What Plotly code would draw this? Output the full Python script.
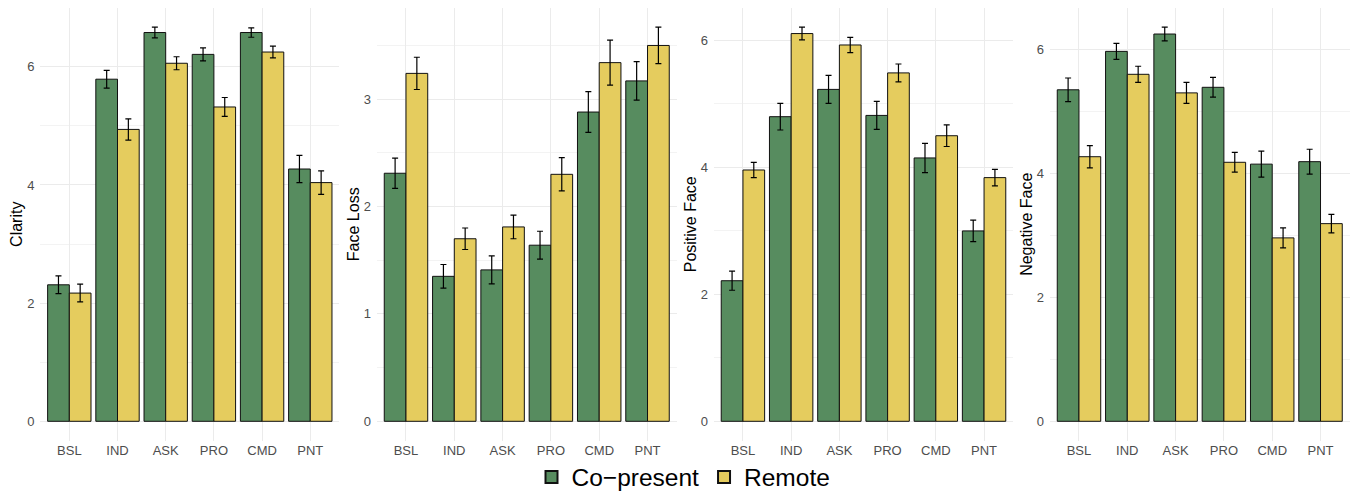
import plotly.graph_objects as go

categories = ["BSL", "IND", "ASK", "PRO", "CMD", "PNT"]
series_names = ["Co\u2212present", "Remote"]
series_colors = ["#578C5F", "#E5CC5E"]

panel_titles = ["Clarity", "Face Loss", "Positive Face", "Negative Face"]

clarity_copresent = [2.31, 5.79, 6.58, 6.21, 6.58, 4.27]
clarity_copresent_err = [0.15, 0.15, 0.09, 0.11, 0.08, 0.23]
clarity_remote = [2.17, 4.94, 6.06, 5.32, 6.25, 4.04]
clarity_remote_err = [0.15, 0.18, 0.11, 0.16, 0.10, 0.20]

faceloss_copresent = [2.31, 1.35, 1.41, 1.64, 2.88, 3.17]
faceloss_copresent_err = [0.14, 0.11, 0.13, 0.13, 0.19, 0.18]
faceloss_remote = [3.24, 1.70, 1.81, 2.30, 3.34, 3.50]
faceloss_remote_err = [0.15, 0.10, 0.11, 0.155, 0.21, 0.17]

posface_copresent = [2.215, 4.80, 5.23, 4.82, 4.15, 3.00]
posface_copresent_err = [0.15, 0.21, 0.22, 0.22, 0.23, 0.17]
posface_remote = [3.96, 6.11, 5.93, 5.49, 4.50, 3.84]
posface_remote_err = [0.12, 0.10, 0.12, 0.14, 0.17, 0.13]

negface_copresent = [5.35, 5.97, 6.25, 5.39, 4.15, 4.19]
negface_copresent_err = [0.19, 0.13, 0.11, 0.16, 0.21, 0.20]
negface_remote = [4.27, 5.60, 5.30, 4.18, 2.96, 3.19]
negface_remote_err = [0.18, 0.13, 0.17, 0.16, 0.16, 0.15]

panels = [
    (clarity_copresent, clarity_copresent_err, clarity_remote, clarity_remote_err, 2, 1),
    (faceloss_copresent, faceloss_copresent_err, faceloss_remote, faceloss_remote_err, 1, 0.5),
    (posface_copresent, posface_copresent_err, posface_remote, posface_remote_err, 2, 1),
    (negface_copresent, negface_copresent_err, negface_remote, negface_remote_err, 2, 1),
]

W, H = 1351, 495
x_domains_px = [(40.4, 339.2), (377.0, 676.5), (714.0, 1013.0), (1050.0, 1349.5)]
y_domain = [(H - 441.0) / H, (H - 7.5) / H]

FONT = "Liberation Sans, Arial, Helvetica, sans-serif"
fig = go.Figure()

for i, (cv, ce, rv, re_, dt, mdt) in enumerate(panels):
    ax = "" if i == 0 else str(i + 1)
    for j, (vals, errs) in enumerate([(cv, ce), (rv, re_)]):
        fig.add_trace(go.Bar(
            x=categories, y=vals,
            name=series_names[j],
            marker=dict(color=series_colors[j], line=dict(color="#111111", width=1)),
            error_y=dict(type="data", array=errs, visible=True, color="#000000",
                         thickness=1.2, width=3),
            xaxis="x" + ax, yaxis="y" + ax,
            offsetgroup=str(j), legendgroup=str(j),
            showlegend=(i == 0),
        ))
    ymax = max(max(v + e for v, e in zip(cv, ce)), max(v + e for v, e in zip(rv, re_)))
    d0, d1 = x_domains_px[i]
    fig.update_layout(**{
        "xaxis" + ax: dict(
            domain=[d0 / W, d1 / W], anchor="y" + ax,
            type="category", categoryorder="array", categoryarray=categories,
            range=[-0.6, 5.6],
            showgrid=True, gridcolor="#EBEBEB", gridwidth=1,
            showline=False, zeroline=False, ticks="",
            tickfont=dict(family=FONT, size=13, color="#4D4D4D"),
        ),
        "yaxis" + ax: dict(
            domain=y_domain, anchor="x" + ax,
            range=[-0.05 * ymax, 1.05 * ymax],
            dtick=dt, tick0=0,
            showgrid=True, gridcolor="#EBEBEB", gridwidth=1,
            minor=dict(dtick=mdt, tick0=0, showgrid=True, gridcolor="#F3F3F3", gridwidth=0.6),
            showline=False, zeroline=False, ticks="",
            ticklabelstandoff=5,
            tickfont=dict(family=FONT, size=13, color="#4D4D4D"),
            title=dict(text=panel_titles[i], font=dict(family=FONT, size=16, color="#000000"),
                       standoff=0),
        ),
    })

fig.update_layout(
    width=W, height=H,
    margin=dict(l=0, r=0, t=0, b=0, autoexpand=False),
    paper_bgcolor="white", plot_bgcolor="white",
    barmode="group", bargap=0.1, bargroupgap=0,
    font=dict(family=FONT, color="#000000"),
    legend=dict(
        orientation="h", x=0.5 + 8.0 / W, xanchor="center", y=(H - 477.0) / H, yanchor="middle",
        font=dict(family=FONT, size=24.5, color="#000000"),
        bgcolor="rgba(0,0,0,0)",
        itemsizing="constant", traceorder="normal",
    ),
)

fig.write_html(
    "out.html",
    config={"displayModeBar": False},
    post_script="document.body.style.margin='0px';document.body.style.overflow='hidden';",
)
